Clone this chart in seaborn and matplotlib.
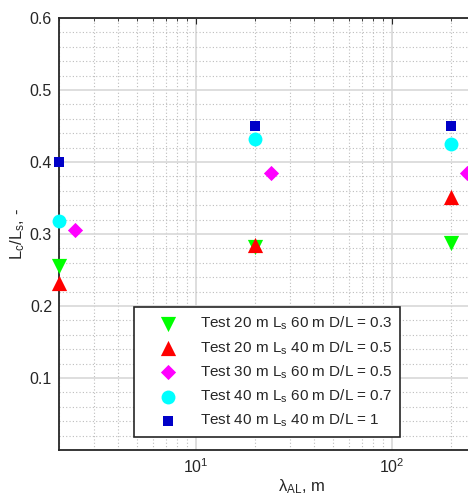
import numpy as np
import pandas as pd
import matplotlib
matplotlib.use("Agg")
import matplotlib.pyplot as plt
import seaborn as sns
from matplotlib.ticker import LogLocator, NullFormatter, MultipleLocator

sns.set_style("white")
plt.rcParams['font.family'] = ['Liberation Sans', 'DejaVu Sans']
plt.rcParams['mathtext.fontset'] = 'custom'
plt.rcParams['mathtext.rm'] = 'Liberation Sans'
plt.rcParams['mathtext.it'] = 'Liberation Sans:italic'

# wavelength values (m)
lam = [2, 20, 200]
lam_d = [2.4, 24, 240]

# Lc/Ls for each test
t20_60 = [0.255, 0.282, 0.288]
t20_40 = [0.232, 0.285, 0.352]
t30_60 = [0.306, 0.385, 0.385]
t40_60 = [0.318, 0.432, 0.425]
t40_40 = [0.400, 0.450, 0.450]

labels = [r'Test 20 m L$_\mathrm{s}$ 60 m D/L = 0.3',
          r'Test 20 m L$_\mathrm{s}$ 40 m D/L = 0.5',
          r'Test 30 m L$_\mathrm{s}$ 60 m D/L = 0.5',
          r'Test 40 m L$_\mathrm{s}$ 60 m D/L = 0.7',
          r'Test 40 m L$_\mathrm{s}$ 40 m D/L = 1']

series = [(lam, t20_60, 'v', '#00FF00', 120),
          (lam, t20_40, '^', '#FF0000', 120),
          (lam_d, t30_60, 'D', '#FF00FF', 60),
          (lam, t40_60, 'o', '#00FFFF', 100),
          (lam, t40_40, 's', '#0000C8', 50)]

W = 485.5
fig = plt.figure(figsize=(4.68, 4.93), dpi=100)
ax = fig.add_axes([59/468, 43/493, W/468, 432/493])

for (x, y, m, c, s), lab in zip(series, labels):
    df = pd.DataFrame({'x': x, 'y': y})
    sns.scatterplot(data=df, x='x', y='y', marker=m, color=c, s=s,
                    linewidth=0, ax=ax, label=lab, clip_on=False, zorder=5)

ax.set_xscale('log')
ax.set_xlim(2, 600)
ax.set_ylim(0, 0.6)
ax.yaxis.set_minor_locator(MultipleLocator(0.02))
ax.set_yticks([0.1, 0.2, 0.3, 0.4, 0.5, 0.6])
ax.xaxis.set_major_locator(LogLocator(base=10))
ax.xaxis.set_minor_locator(LogLocator(base=10, subs=np.arange(2, 10)))
ax.xaxis.set_minor_formatter(NullFormatter())

ax.grid(True, which='major', color='#d8d8d8', linewidth=1.2, linestyle='-')
ax.grid(True, which='minor', color='#bdbdbd', linewidth=0.8, linestyle=(0, (1, 2)))
ax.set_axisbelow(True)

ax.tick_params(which='both', direction='in', top=True, right=True,
               labelsize=11.5, colors='#262626', length=4, pad=5)
ax.tick_params(which='minor', length=2.5)
for sp in ax.spines.values():
    sp.set_color('#262626')
    sp.set_linewidth(1.3)

ax.set_xlabel('λ$_\\mathrm{AL}$, m', fontsize=12, color='#262626', labelpad=1)
ax.set_ylabel(r'L$_\mathrm{c}$/L$_\mathrm{s}$, -', fontsize=12, color='#262626', labelpad=2)

leg = ax.legend(loc='lower left', bbox_to_anchor=(75/W, 13/432), fontsize=11,
                frameon=True, fancybox=False, edgecolor='#262626', framealpha=1,
                handlelength=3.4, handletextpad=0.4, labelspacing=0.45,
                borderpad=0.5, borderaxespad=0)
leg.get_frame().set_linewidth(1.2)

fig.savefig('out.png', dpi=100)
